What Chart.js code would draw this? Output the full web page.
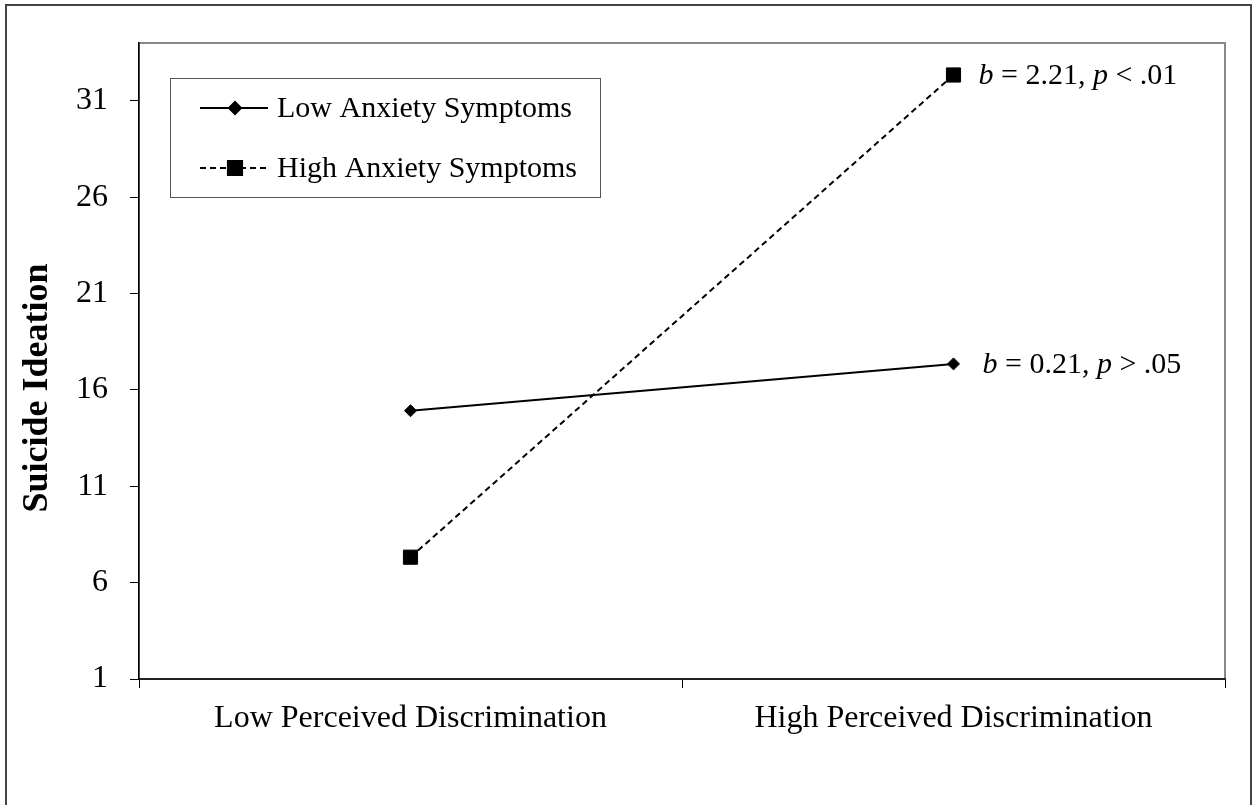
<!DOCTYPE html>
<html lang="en">
<head>
    <meta charset="UTF-8">
    <title>Suicide Ideation by Perceived Discrimination</title>
    <script src="https://cdn.jsdelivr.net/npm/chart.js"></script>
    <style>
        body {
            margin: 0;
            background-color: #fff;
        }
        canvas {
            display: block;
        }
    </style>
</head>
<body>
    <canvas id="chart" width="1255" height="805"></canvas>

    <script>
        // values
        const categories = ['Low Perceived Discrimination', 'High Perceived Discrimination'];
        const lowAnxiety = [14.92, 17.35];
        const highAnxiety = [7.32, 32.34];
        const seriesNames = ['Low Anxiety Symptoms', 'High Anxiety Symptoms'];
        const yTicks = [1, 6, 11, 16, 21, 26, 31];
        const yTitle = 'Suicide Ideation';
        // slope notes: [text, italic?] pieces
        const highNote = [['b', true], [' = 2.21, ', false], ['p', true], [' < .01', false]];
        const lowNote = [['b', true], [' = 0.21, ', false], ['p', true], [' > .05', false]];

        const serif = '"Liberation Serif", "Times New Roman", serif';

        // outer frame + grey plot frame
        const framePlugin = {
            id: 'frame',
            beforeDraw(chart) {
                const ctx = chart.ctx;
                const a = chart.chartArea;
                ctx.save();
                ctx.strokeStyle = '#444';
                ctx.lineWidth = 2;
                ctx.beginPath();
                ctx.moveTo(6, 810);
                ctx.lineTo(6, 5);
                ctx.lineTo(1251, 5);
                ctx.lineTo(1251, 810);
                ctx.stroke();
                ctx.strokeStyle = '#888';
                ctx.lineWidth = 2;
                ctx.strokeRect(a.left, a.top, a.right - a.left, a.bottom - a.top);
                ctx.restore();
            }
        };

        function drawPieces(ctx, pieces, x, y, size) {
            pieces.forEach(p => {
                ctx.font = (p[1] ? 'italic ' : '') + size + 'px ' + serif;
                ctx.fillText(p[0], x, y);
                x += ctx.measureText(p[0]).width;
            });
        }

        const notesPlugin = {
            id: 'notes',
            afterDraw(chart) {
                const ctx = chart.ctx;
                const a = chart.chartArea;
                ctx.save();
                ctx.fillStyle = '#000';
                ctx.textBaseline = 'middle';
                ctx.textAlign = 'left';

                // slope notes next to the right-hand points
                const pHigh = chart.getDatasetMeta(1).data[1];
                const pLow = chart.getDatasetMeta(0).data[1];
                drawPieces(ctx, highNote, pHigh.x + 25, pHigh.y + 1, 30);
                drawPieces(ctx, lowNote, pLow.x + 29, pLow.y + 1, 30);

                // y axis title
                ctx.save();
                ctx.translate(38, 388);
                ctx.rotate(-Math.PI / 2);
                ctx.textAlign = 'center';
                ctx.font = 'bold 36px ' + serif;
                ctx.fillText(yTitle, 0, 0);
                ctx.restore();

                // legend box
                const lx = a.left + 31, ly = a.top + 35, lw = 430, lh = 119;
                ctx.fillStyle = '#fff';
                ctx.fillRect(lx, ly, lw, lh);
                ctx.strokeStyle = '#555';
                ctx.lineWidth = 1;
                ctx.strokeRect(lx + 0.5, ly + 0.5, lw, lh);
                chart.data.datasets.forEach((ds, i) => {
                    const y = ly + 30 + i * 60;
                    ctx.strokeStyle = ds.borderColor;
                    ctx.lineWidth = ds.borderWidth;
                    ctx.setLineDash(ds.borderDash || []);
                    ctx.beginPath();
                    ctx.moveTo(lx + 30, y);
                    ctx.lineTo(lx + 98, y);
                    ctx.stroke();
                    ctx.setLineDash([]);
                    ctx.fillStyle = '#000';
                    Chart.helpers.drawPoint(ctx, {
                        pointStyle: ds.pointStyle,
                        radius: ds.pointRadius,
                        borderWidth: ds.pointBorderWidth,
                        rotation: 0
                    }, lx + 65, y);
                    ctx.font = '30px ' + serif;
                    ctx.fillText(ds.label, lx + 107, y + 1);
                });
                ctx.restore();
            }
        };

        const ctx = document.getElementById('chart').getContext('2d');
        new Chart(ctx, {
            type: 'line',
            data: {
                labels: categories,
                datasets: [
                    {
                        label: seriesNames[0],
                        data: lowAnxiety,
                        borderColor: '#000',
                        backgroundColor: '#000',
                        borderWidth: 2,
                        pointStyle: 'rectRot',
                        pointRadius: 6,
                        pointBorderWidth: 1,
                        pointBackgroundColor: '#000',
                        pointBorderColor: '#000',
                        clip: false
                    },
                    {
                        label: seriesNames[1],
                        data: highAnxiety,
                        borderColor: '#000',
                        backgroundColor: '#000',
                        borderWidth: 2,
                        borderDash: [6, 4],
                        pointStyle: 'rect',
                        pointRadius: 10,
                        pointBorderWidth: 1,
                        pointBackgroundColor: '#000',
                        pointBorderColor: '#000',
                        clip: false
                    }
                ]
            },
            options: {
                responsive: false,
                animation: false,
                events: [],
                layout: {
                    padding: { top: 43, right: 30, left: 0, bottom: 0 }
                },
                plugins: {
                    legend: { display: false },
                    tooltip: { enabled: false }
                },
                scales: {
                    x: {
                        offset: true,
                        afterFit: s => { s.height = 126; },
                        grid: {
                            offset: true,
                            drawOnChartArea: false,
                            tickLength: 9,
                            color: '#000',
                            lineWidth: 1
                        },
                        border: { color: '#222', width: 2 },
                        ticks: {
                            padding: 11,
                            color: '#000',
                            maxRotation: 0,
                            font: { family: serif, size: 32 }
                        }
                    },
                    y: {
                        min: 1,
                        max: 34,
                        afterFit: s => { s.width = 139; },
                        afterBuildTicks: s => { s.ticks = yTicks.map(v => ({ value: v })); },
                        grid: {
                            drawOnChartArea: false,
                            tickLength: 9,
                            color: '#000',
                            lineWidth: 1
                        },
                        border: { color: '#000', width: 1.5 },
                        ticks: {
                            padding: 22,
                            color: '#000',
                            font: { family: serif, size: 32 }
                        }
                    }
                }
            },
            plugins: [framePlugin, notesPlugin]
        });
    </script>
</body>
</html>
